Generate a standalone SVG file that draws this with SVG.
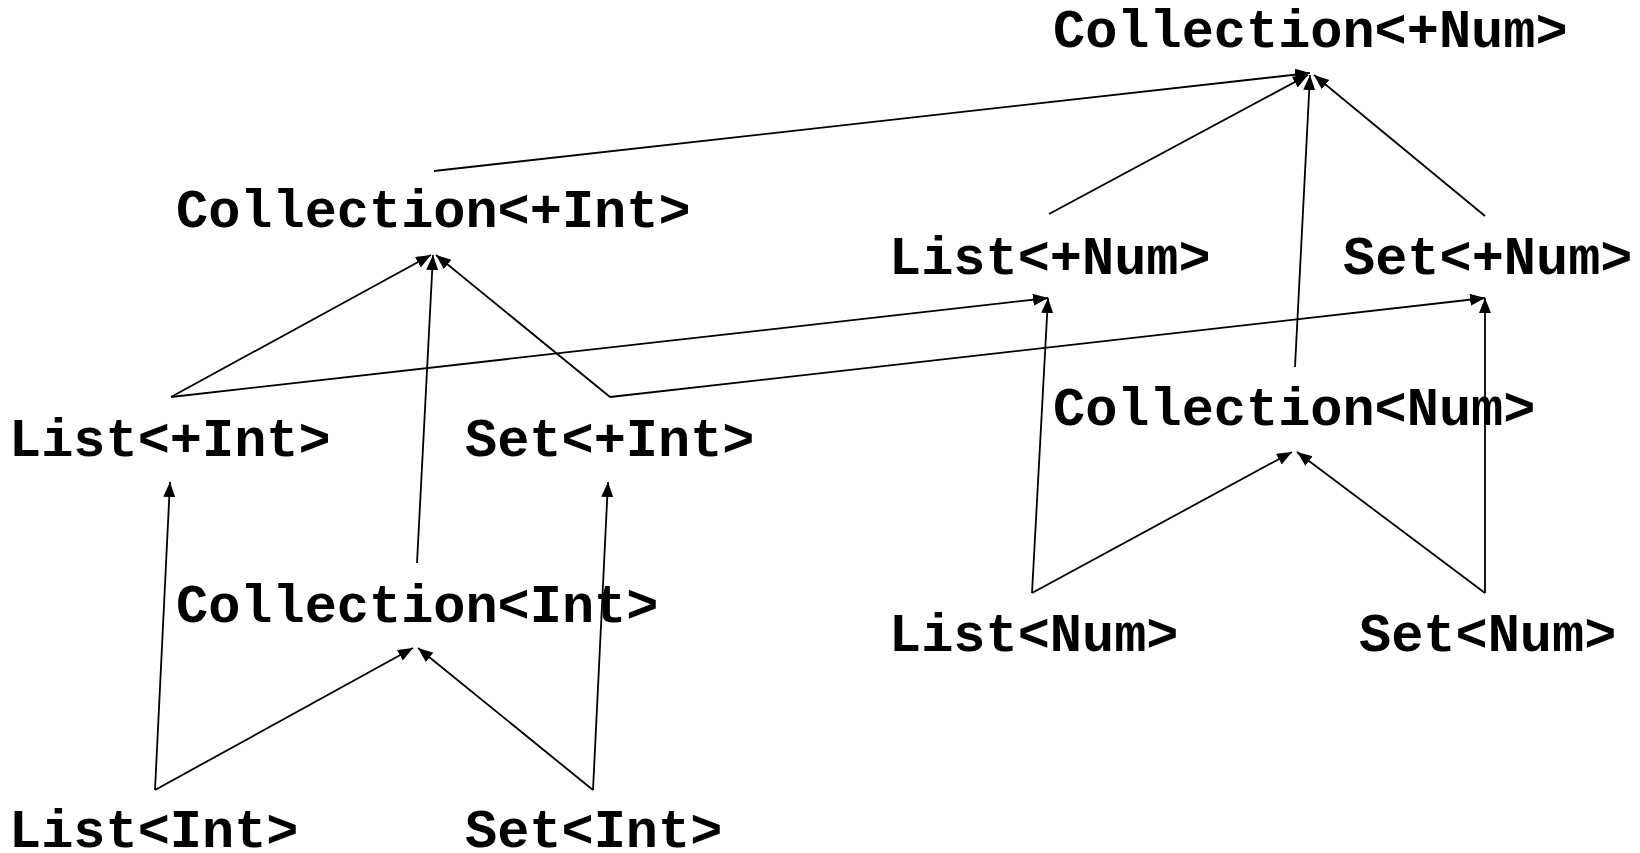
<svg xmlns="http://www.w3.org/2000/svg" width="1640" height="853" viewBox="0 0 1640 853">
  <style>
    .lbl { font-family: "Liberation Mono", "Courier New", monospace; font-weight: bold; font-size: 53.6px; fill: #000; }
    .edge { stroke: #000; stroke-width: 1.8; fill: none; marker-end: url(#arr); }
  </style>
  <defs>
    <marker id="arr" markerUnits="userSpaceOnUse" markerWidth="16" markerHeight="14" refX="15" refY="6" orient="auto">
      <path d="M0,0 L15,6 L0,12 z" fill="#000"/>
    </marker>
  </defs>
  <rect width="1640" height="853" fill="#fff"/>

  <!-- subtype edges -->
  <g id="connectors">
    <line class="edge" x1="434" y1="171" x2="1310" y2="73"/>
    <line class="edge" x1="1049" y1="214" x2="1308" y2="75"/>
    <line class="edge" x1="1295" y1="367" x2="1310" y2="75"/>
    <line class="edge" x1="1485" y1="216" x2="1314" y2="75"/>

    <line class="edge" x1="171" y1="397" x2="431" y2="255"/>
    <line class="edge" x1="417" y1="563" x2="433" y2="255"/>
    <line class="edge" x1="610" y1="397" x2="436" y2="255"/>

    <line class="edge" x1="171" y1="397" x2="1048" y2="298"/>
    <line class="edge" x1="610" y1="397" x2="1485" y2="298"/>

    <line class="edge" x1="155" y1="790" x2="170" y2="482"/>
    <line class="edge" x1="155" y1="790" x2="413" y2="648"/>
    <line class="edge" x1="593" y1="790" x2="418" y2="648"/>
    <line class="edge" x1="593" y1="790" x2="608" y2="482"/>

    <line class="edge" x1="1032" y1="593" x2="1048" y2="298"/>
    <line class="edge" x1="1032" y1="593" x2="1292" y2="452"/>
    <line class="edge" x1="1485" y1="593" x2="1297" y2="452"/>
    <line class="edge" x1="1485" y1="593" x2="1485" y2="298"/>
  </g>

  <g id="collection-plus-num"><text class="lbl" x="1053" y="47">Collection&lt;+Num&gt;</text></g>
  <g id="collection-plus-int"><text class="lbl" x="176" y="227">Collection&lt;+Int&gt;</text></g>
  <g id="list-plus-num"><text class="lbl" x="889" y="274">List&lt;+Num&gt;</text></g>
  <g id="set-plus-num"><text class="lbl" x="1343" y="274">Set&lt;+Num&gt;</text></g>
  <g id="list-plus-int"><text class="lbl" x="9" y="456">List&lt;+Int&gt;</text></g>
  <g id="set-plus-int"><text class="lbl" x="465" y="456">Set&lt;+Int&gt;</text></g>
  <g id="collection-num"><text class="lbl" x="1053" y="425">Collection&lt;Num&gt;</text></g>
  <g id="collection-int"><text class="lbl" x="176" y="622">Collection&lt;Int&gt;</text></g>
  <g id="list-num"><text class="lbl" x="889" y="651">List&lt;Num&gt;</text></g>
  <g id="set-num"><text class="lbl" x="1359" y="651">Set&lt;Num&gt;</text></g>
  <g id="list-int"><text class="lbl" x="9" y="847">List&lt;Int&gt;</text></g>
  <g id="set-int"><text class="lbl" x="465" y="847">Set&lt;Int&gt;</text></g>
</svg>
